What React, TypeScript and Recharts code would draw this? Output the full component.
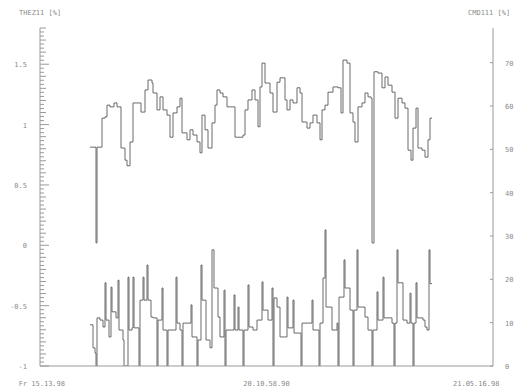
import React from 'react';
import { LineChart, Line, XAxis, YAxis } from 'recharts';

// time axis (arbitrary units, 0..453 across the plot)
const timeTicks = [0, 226.5, 453];
const timeLabels = ['Fr 15.13.98', '20.10.58.90', '21.05.16.98'];

// left axis
const leftLabels = [-1, -0.5, 0, 0.5, 1, 1.5];
// right axis
const rightLabels = [0, 10, 20, 30, 40, 50, 60, 70];

// upper trace [t, value on right axis]
const upperT = [50, 56, 57, 62, 65, 67, 70, 74, 77, 81, 85, 87, 90, 93, 98, 101, 105, 108, 112, 113, 117, 120, 123, 127, 130, 133, 137, 140, 142, 147, 150, 153, 157, 160, 162, 165, 168, 172, 175, 177, 180, 183, 187, 192, 195, 203, 205, 208, 212, 215, 218, 220, 222, 225, 230, 233, 237, 240, 245, 247, 250, 253, 257, 260, 262, 267, 270, 273, 277, 280, 282, 285, 288, 293, 298, 301, 303, 307, 310, 313, 315, 318, 322, 325, 328, 331, 332, 334, 338, 342, 345, 348, 352, 355, 358, 362, 365, 368, 371, 373, 376, 378, 382, 385, 388, 390, 392];
const upperV = [50.5, 28.4, 50.5, 57.2, 57.5, 60.2, 59.8, 60.7, 59.8, 50.3, 47.5, 46.2, 51.7, 60.7, 60.7, 58.6, 63.7, 66.0, 65.3, 63.0, 59.1, 62.1, 59.1, 57.9, 52.8, 58.4, 59.8, 61.8, 53.8, 52.2, 54.5, 53.3, 51.7, 49.2, 57.9, 54.5, 50.3, 56.1, 60.2, 63.7, 63.0, 62.1, 59.8, 59.8, 52.8, 53.3, 59.1, 61.4, 63.7, 61.4, 55.2, 64.4, 69.9, 65.3, 63.0, 58.6, 65.5, 66.5, 61.4, 59.1, 61.4, 60.7, 64.2, 63.0, 56.3, 54.9, 56.1, 57.9, 56.1, 52.2, 59.1, 60.2, 63.2, 64.4, 64.2, 58.4, 70.6, 69.9, 58.4, 56.3, 51.7, 59.8, 60.7, 63.0, 62.1, 61.8, 28.4, 67.9, 67.6, 64.2, 66.7, 64.8, 63.2, 57.2, 61.8, 60.7, 59.5, 49.8, 47.5, 54.9, 59.5, 50.3, 49.8, 48.2, 52.2, 57.2, 57.2];

// lower trace [t, value on right axis]
const lowerT = [50, 53, 55, 56, 57, 60, 63, 65, 66, 69, 71, 72, 76, 78, 79, 83, 84, 88, 89, 92, 93, 94, 99, 100, 103, 104, 107, 108, 111, 113, 117, 118, 122, 123, 127, 128, 136, 137, 140, 142, 143, 151, 152, 157, 158, 161, 162, 166, 170, 172, 174, 178, 180, 184, 185, 186, 194, 195, 198, 199, 203, 204, 208, 209, 213, 217, 222, 223, 228, 232, 233, 234, 237, 240, 247, 248, 253, 254, 261, 262, 267, 272, 273, 279, 280, 283, 285, 286, 292, 297, 298, 299, 304, 305, 307, 310, 313, 314, 317, 318, 325, 328, 332, 333, 337, 338, 343, 344, 347, 352, 354, 355, 357, 358, 363, 367, 370, 371, 373, 374, 376, 377, 383, 385, 387, 389, 390, 392];
const lowerV = [9.5, 4.2, 3.0, 0, 11.1, 10.6, 9.0, 19.2, 10.6, 6.7, 18.2, 12.5, 11.1, 19.8, 8.3, 6.0, 0, 20.5, 8.3, 8.8, 20.5, 8.8, 0, 15.2, 20.5, 15.2, 23.3, 15.2, 11.3, 11.1, 0, 10.6, 18.0, 8.3, 0, 8.3, 20.5, 9.9, 8.3, 0, 9.9, 14.1, 6.7, 0, 6.0, 23.3, 15.2, 6.0, 4.2, 26.8, 18.0, 11.3, 6.7, 17.5, 0, 8.3, 16.4, 8.3, 13.6, 8.3, 0, 8.3, 18.7, 9.0, 8.3, 10.6, 19.4, 12.9, 10.6, 18.0, 0, 15.7, 13.6, 6.7, 15.9, 8.8, 15.2, 7.6, 0, 9.9, 9.9, 15.2, 8.3, 0, 9.9, 20.3, 31.4, 13.6, 8.3, 9.9, 0, 15.9, 24.5, 18.0, 18.0, 12.9, 0, 12.9, 26.8, 13.6, 11.3, 8.3, 0, 8.3, 17.1, 10.6, 20.5, 11.1, 11.1, 9.9, 0, 9.9, 26.8, 19.2, 10.6, 9.9, 16.8, 9.9, 0, 9.9, 19.2, 11.1, 10.6, 9.0, 8.3, 26.8, 19.0, 19.0];

const upperData = upperT.map((t, i) => ({ t, v: upperV[i] }));
const lowerData = lowerT.map((t, i) => ({ t, v: lowerV[i] }));

// dense minor ticks on the left axis
const leftTicks: number[] = [];
for (let i = 0; i <= 84; i++) leftTicks.push(Math.round((-1 + i / 30) * 1000) / 1000);

const txt = '#8a8a8a';
const ax = '#9a9a9a';
const lineColor = '#5a5a5a';
const font = '"DejaVu Sans Mono", monospace';

const LeftTick = (props: any) => {
  const { x, y, payload } = props;
  const v = payload.value;
  const major = leftLabels.some((m) => Math.abs(m - v) < 1e-6);
  const mid = Math.abs(v * 10 - Math.round(v * 10)) < 1e-6;
  return (
    <g>
      <line x1={x} x2={x + (major ? 9 : mid ? 6 : 4)} y1={y} y2={y} stroke={ax} strokeWidth={1} />
      {major && (
        <text x={x - 13} y={y + 3} textAnchor="end" fontSize={7} fill={txt} fontFamily={font}>
          {v === 0 ? '0' : String(v)}
        </text>
      )}
    </g>
  );
};

const RightTick = (props: any) => {
  const { x, y, payload } = props;
  return (
    <g>
      <line x1={x - 3} x2={x} y1={y} y2={y} stroke={ax} />
      <text x={x + 12} y={y + 3} textAnchor="start" fontSize={7} fill={txt} fontFamily={font}>
        {payload.value}
      </text>
    </g>
  );
};

const TimeTick = (props: any) => {
  const { x, y, index } = props;
  const anchor = index === 0 ? 'end' : index === 2 ? 'start' : 'middle';
  const dx = index === 0 ? 25 : index === 2 ? -40 : 0;
  return (
    <text x={x + dx} y={y + 12} textAnchor={anchor} fontSize={7} fill={txt} fontFamily={font}>
      {timeLabels[index]}
    </text>
  );
};

export default function App() {
  return (
    <div style={{ position: 'absolute', left: 0, top: 0, width: 516, height: 388, background: '#fff' }}>
      <div style={{ position: 'absolute', left: 19, top: 9, fontSize: 7, color: txt, fontFamily: font }}>THEZ11 [%]</div>
      <div style={{ position: 'absolute', left: 468, top: 9, fontSize: 7, color: txt, fontFamily: font }}>CMD111 [%]</div>
      <LineChart width={516} height={388} margin={{ top: 28, right: 0, bottom: 0, left: 0 }}>
        <XAxis
          type="number"
          dataKey="t"
          domain={[0, 453]}
          ticks={timeTicks}
          tick={<TimeTick />}
          tickLine={false}
          stroke={ax}
          height={22}
          allowDataOverflow
        />
        <YAxis
          yAxisId="left"
          orientation="left"
          domain={[-1, 1.8]}
          ticks={leftTicks}
          interval={0}
          tick={<LeftTick />}
          tickLine={false}
          tickSize={0}
          tickMargin={0}
          stroke={ax}
          width={40}
          allowDataOverflow
        />
        <YAxis
          yAxisId="right"
          orientation="right"
          domain={[0, 78]}
          ticks={rightLabels}
          interval={0}
          tick={<RightTick />}
          tickLine={false}
          tickSize={0}
          tickMargin={0}
          stroke={ax}
          width={23}
          allowDataOverflow
        />
        <Line
          yAxisId="right"
          data={upperData}
          dataKey="v"
          type="stepAfter"
          stroke={lineColor}
          strokeWidth={0.9}
          dot={false}
          isAnimationActive={false}
        />
        <Line
          yAxisId="right"
          data={lowerData}
          dataKey="v"
          type="stepAfter"
          stroke={lineColor}
          strokeWidth={0.9}
          dot={false}
          isAnimationActive={false}
        />
      </LineChart>
    </div>
  );
}
